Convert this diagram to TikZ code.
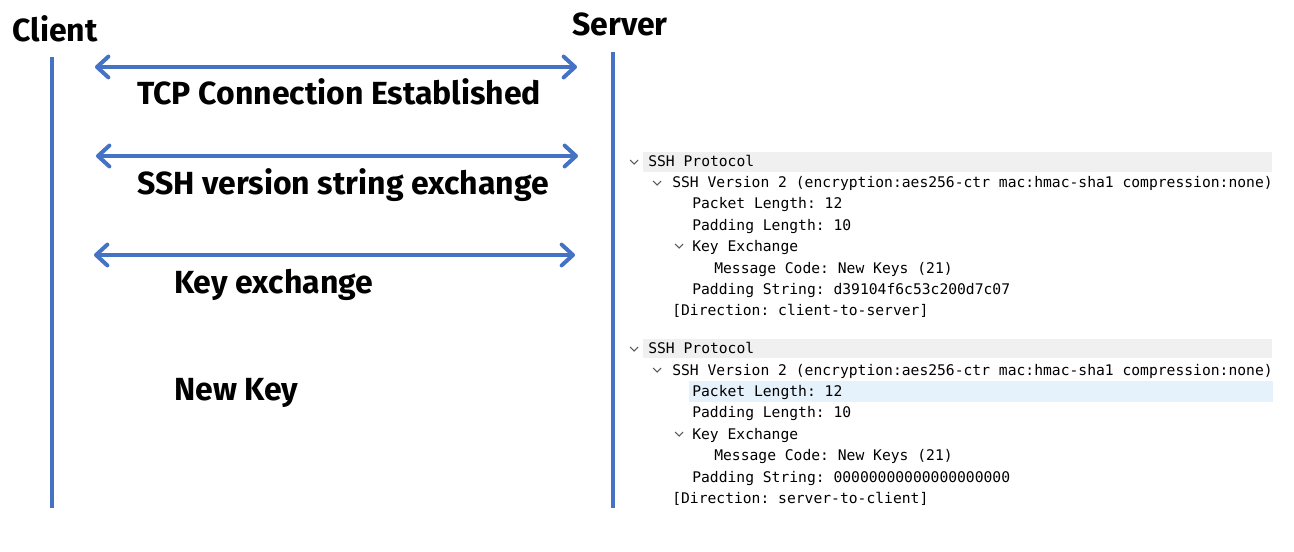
\documentclass[tikz,border=0pt]{standalone}
\usepackage{fontspec}
\setmainfont{Fira Sans}
\setmonofont{DejaVu Sans Mono}
\usetikzlibrary{arrows.meta,positioning}
\definecolor{lifeblue}{RGB}{68,114,196}
\definecolor{hdrgray}{RGB}{240,240,240}
\definecolor{selblue}{RGB}{229,241,251}
\definecolor{chevgray}{RGB}{90,90,90}
\newcommand{\chev}[1]{\draw[chev] ($(#1)+(-4,-2)$) -- ($(#1)+(0,2)$) -- ($(#1)+(4,-2)$);}
\usetikzlibrary{calc}

\begin{document}
\begin{tikzpicture}[x=0.75pt, y=-0.75pt, party/.style={font=\bfseries\fontsize{24}{28}\selectfont, inner sep=0pt, anchor=base}, lbl/.style={font=\bfseries\fontsize{24}{28}\selectfont, inner sep=0pt, anchor=base west}, life/.style={draw=lifeblue, line width=2.6pt}, msg/.style={draw=lifeblue, line width=3pt, line cap=round, {Straight Barb[length=3mm, width=5.5mm, line width=3pt, round]}-{Straight Barb[length=3mm, width=5.5mm, line width=3pt, round]}}, tt/.style={font=\ttfamily\fontsize{11}{13}\selectfont, inner sep=0pt, anchor=base west}, chev/.style={draw=chevgray, line width=0.8pt}]
\useasboundingbox (0,0) rectangle (1294,552);
% parties and lifelines
\node[party] (client) at (55,42) {Client};
\node[party] (server) at (620,36) {Server};
\coordinate (c0) at (52,57); \coordinate (c1) at (52,508);
\coordinate (s0) at (613,52); \coordinate (s1) at (613,508);
\draw[life] (c0) -- (c1); \draw[life] (s0) -- (s1);
% messages
\coordinate (tcpL) at (95,67); \coordinate (tcpR) at (577,67);
\coordinate (verL) at (96,156); \coordinate (verR) at (578,156);
\coordinate (kexL) at (94,255); \coordinate (kexR) at (575,255);
\draw[msg] (tcpL) -- (tcpR); \draw[msg] (verL) -- (verR); \draw[msg] (kexL) -- (kexR);
\node[lbl] (tcp) at (137,105) {TCP Connection Established};
\node[lbl] (ver) at (137,195) {SSH version string exchange};
\node[lbl] (kex) at (174,293) {Key exchange};
\node[lbl] (newkey) at (174,400) {New Key};
% packet detail, client-to-server
\fill[hdrgray] (643,152) rectangle (1272,172);
\chev{634,162} \chev{657,183} \chev{679,246}
\node[tt] (p1) at (648,167) {SSH Protocol};
\node[tt] (p1v) at (672,188) {SSH Version 2 (encryption:aes256-ctr mac:hmac-sha1 compression:none)};
\node[tt] (p1pl) at (692,209) {Packet Length: 12};
\node[tt] (p1pd) at (692,230) {Padding Length: 10};
\node[tt] (p1kx) at (692,251) {Key Exchange};
\node[tt] (p1mc) at (714,273) {Message Code: New Keys (21)};
\node[tt] (p1ps) at (692,294) {Padding String: d39104f6c53c200d7c07};
\node[tt] (p1dir) at (672,315) {[Direction: client-to-server]};
% packet detail, server-to-client
\fill[hdrgray] (643,339) rectangle (1272,358);
\fill[selblue] (689,381) rectangle (1273,402);
\chev{634,349} \chev{657,370} \chev{679,434}
\node[tt] (p2) at (648,353) {SSH Protocol};
\node[tt] (p2v) at (672,375) {SSH Version 2 (encryption:aes256-ctr mac:hmac-sha1 compression:none)};
\node[tt] (p2pl) at (692,396) {Packet Length: 12};
\node[tt] (p2pd) at (692,417) {Padding Length: 10};
\node[tt] (p2kx) at (692,439) {Key Exchange};
\node[tt] (p2mc) at (714,460) {Message Code: New Keys (21)};
\node[tt] (p2ps) at (692,482) {Padding String: 00000000000000000000};
\node[tt] (p2dir) at (672,503) {[Direction: server-to-client]};
\end{tikzpicture}
\end{document}
